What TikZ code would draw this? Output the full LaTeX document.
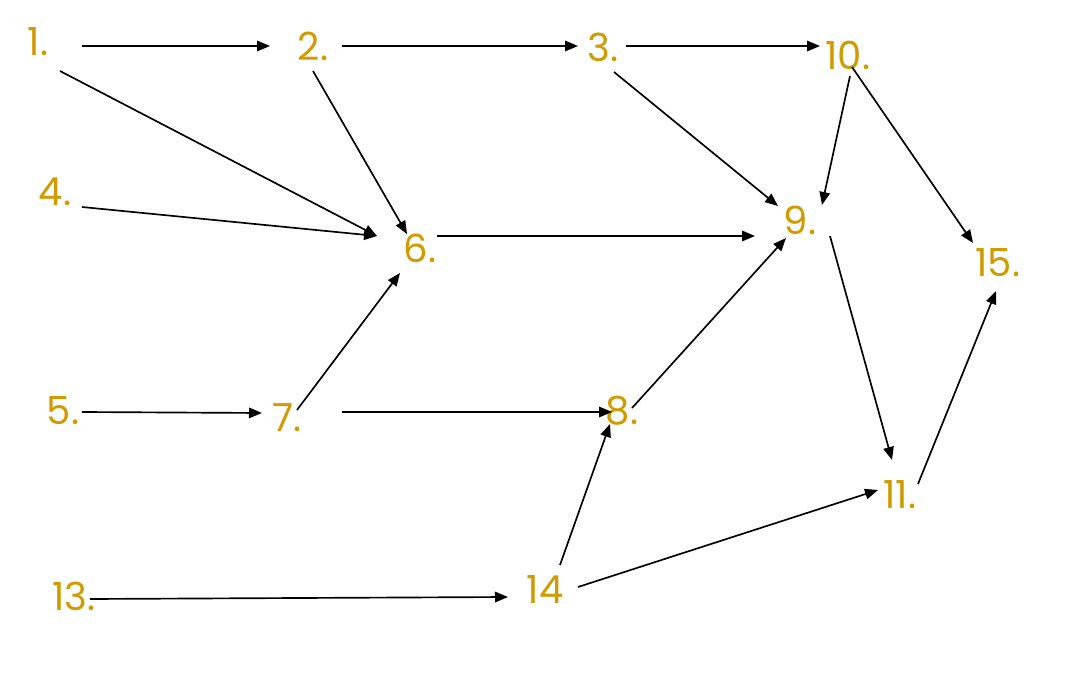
\documentclass[tikz,border=0pt]{standalone}
\usepackage{fontspec}
\setmainfont{Poppins}
\usetikzlibrary{arrows.meta}
\definecolor{numgold}{RGB}{207,155,0}

\begin{document}
\begin{tikzpicture}[
			x=0.02cm, y=-0.02cm,
			step label/.style={text=numgold, font=\fontsize{22}{26}\selectfont, inner sep=0pt},
			arr/.style={-{Triangle[length=0.26cm, width=0.21cm]}, line width=0.95pt}
			]
			\useasboundingbox (0,0) rectangle (1080,693);
			
			% Steps
			\node[step label] (n1) at (38,42) {1.};
			\node[step label] (n2) at (313,46) {2.};
			\node[step label] (n3) at (603,47) {3.};
			\node[step label] (n10) at (848,55) {10.};
			\node[step label] (n4) at (55,192) {4.};
			\node[step label] (n6) at (420,248) {6.};
			\node[step label] (n9) at (800,220) {9.};
			\node[step label] (n15) at (998,263) {15.};
			\node[step label] (n5) at (63,411) {5.};
			\node[step label] (n7) at (287,418) {7.};
			\node[step label] (n8) at (622,411) {8.};
			\node[step label] (n11) at (900,495) {11.};
			\node[step label] (n13) at (74,596) {13.};
			\node[step label] (n14) at (545,590) {14};
			
			% Top row
			\draw[arr] ([shift={(44,4)}]n1.center) -- ([shift={(-43,0)}]n2.center);
			\draw[arr] ([shift={(29,0)}]n2.center) -- ([shift={(-25,-1)}]n3.center);
			\draw[arr] ([shift={(23,-1)}]n3.center) -- ([shift={(-28,-9)}]n10.center);
			
			% Into 6
			\draw[arr] ([shift={(22,29)}]n1.center) -- ([shift={(-43,-12)}]n6.center);
			\draw[arr] ([shift={(0,25)}]n2.center) -- ([shift={(-13,-14)}]n6.center);
			\draw[arr] ([shift={(27,15)}]n4.center) -- ([shift={(-43,-12)}]n6.center);
			\draw[arr] ([shift={(10,-8)}]n7.center) -- ([shift={(-20,25)}]n6.center);
			
			% Into 9
			\draw[arr] ([shift={(17,-12)}]n6.center) -- ([shift={(-45,16)}]n9.center);
			\draw[arr] ([shift={(11,25)}]n3.center) -- ([shift={(-22,-14)}]n9.center);
			\draw[arr] ([shift={(2,21)}]n10.center) -- ([shift={(22,-15)}]n9.center);
			\draw[arr] ([shift={(10,-3)}]n8.center) -- ([shift={(-14,18)}]n9.center);
			
			% Right side
			\draw[arr] ([shift={(4,12)}]n10.center) -- ([shift={(-25,-20)}]n15.center);
			\draw[arr] ([shift={(30,16)}]n9.center) -- ([shift={(-8,-35)}]n11.center);
			\draw[arr] ([shift={(18,-11)}]n11.center) -- ([shift={(-2,28)}]n15.center);
			
			% Lower rows
			\draw[arr] ([shift={(19,1)}]n5.center) -- ([shift={(-25,-5)}]n7.center);
			\draw[arr] ([shift={(55,-6)}]n7.center) -- ([shift={(-10,1)}]n8.center);
			\draw[arr] ([shift={(15,-25)}]n14.center) -- ([shift={(-12,13)}]n8.center);
			\draw[arr] ([shift={(33,-3)}]n14.center) -- ([shift={(-22,-5)}]n11.center);
			\draw[arr] ([shift={(16,3)}]n13.center) -- ([shift={(-37,7)}]n14.center);
			
		\end{tikzpicture}
\end{document}
